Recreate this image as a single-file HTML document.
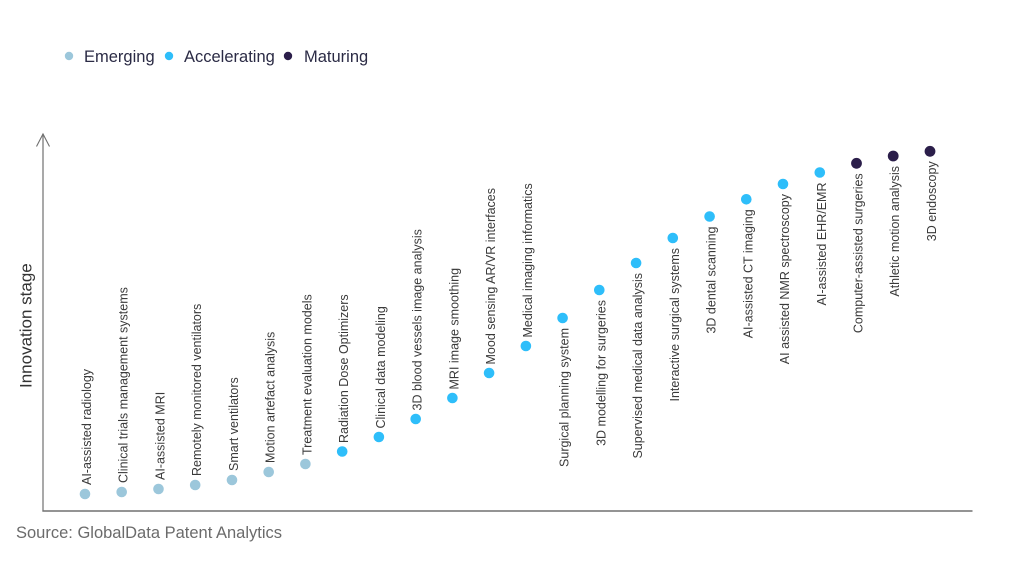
<!DOCTYPE html>
<html>
<head>
<meta charset="utf-8">
<style>
  html, body { margin: 0; padding: 0; background: #ffffff; }
  body { width: 1024px; height: 576px; overflow: hidden; }
  svg { display: block; }
  .lbl { font-family: "Liberation Sans", sans-serif; font-size: 12.5px; fill: #3a3a3a; }
  .leg { font-family: "Liberation Sans", sans-serif; font-size: 16.5px; fill: #2b2b45; }
</style>
</head>
<body>
<svg width="1024" height="576" viewBox="0 0 1024 576" xmlns="http://www.w3.org/2000/svg">
  <!-- Legend -->
  <circle cx="69" cy="56" r="4.2" fill="#9cc7db"/>
  <text class="leg" x="84" y="62">Emerging</text>
  <circle cx="169" cy="56" r="4.2" fill="#2ebefa"/>
  <text class="leg" x="184" y="62">Accelerating</text>
  <circle cx="288" cy="56" r="4.2" fill="#2b1e4a"/>
  <text class="leg" x="304" y="62">Maturing</text>

  <!-- Axes -->
  <line x1="43" y1="134" x2="43" y2="511.5" stroke="#707070" stroke-width="1.2"/>
  <line x1="42.4" y1="511" x2="972.5" y2="511" stroke="#707070" stroke-width="1.4"/>
  <polyline points="36.5,146.5 43,134 49.5,146.5" fill="none" stroke="#707070" stroke-width="1.1"/>

  <!-- Y axis title -->
  <text font-family="Liberation Sans, sans-serif" font-size="17px" fill="#333" transform="translate(31.5,388) rotate(-90)">Innovation stage</text>

  <!-- Source -->
  <text font-family="Liberation Sans, sans-serif" font-size="16.5px" fill="#6b6b6b" x="16" y="538">Source: GlobalData Patent Analytics</text>

  <!-- Emerging -->
  <circle cx="85" cy="494" r="5.3" fill="#9cc7db"/>
  <text class="lbl" transform="translate(91,485) rotate(-90)">AI-assisted radiology</text>
  <circle cx="121.7" cy="492" r="5.3" fill="#9cc7db"/>
  <text class="lbl" transform="translate(127.7,483) rotate(-90)">Clinical trials management systems</text>
  <circle cx="158.5" cy="489" r="5.3" fill="#9cc7db"/>
  <text class="lbl" transform="translate(164.5,480) rotate(-90)">AI-assisted MRI</text>
  <circle cx="195.2" cy="485" r="5.3" fill="#9cc7db"/>
  <text class="lbl" transform="translate(201.2,476) rotate(-90)">Remotely monitored ventilators</text>
  <circle cx="232" cy="480" r="5.3" fill="#9cc7db"/>
  <text class="lbl" transform="translate(238,471) rotate(-90)">Smart ventilators</text>
  <circle cx="268.7" cy="472" r="5.3" fill="#9cc7db"/>
  <text class="lbl" transform="translate(274.7,463) rotate(-90)">Motion artefact analysis</text>
  <circle cx="305.4" cy="464" r="5.3" fill="#9cc7db"/>
  <text class="lbl" transform="translate(311.4,455) rotate(-90)">Treatment evaluation models</text>

  <!-- Accelerating -->
  <circle cx="342.2" cy="451.5" r="5.3" fill="#2ebefa"/>
  <text class="lbl" transform="translate(348.2,443) rotate(-90)">Radiation Dose Optimizers</text>
  <circle cx="378.9" cy="437" r="5.3" fill="#2ebefa"/>
  <text class="lbl" transform="translate(384.9,428.5) rotate(-90)">Clinical data modeling</text>
  <circle cx="415.7" cy="419" r="5.3" fill="#2ebefa"/>
  <text class="lbl" transform="translate(421.7,410.5) rotate(-90)">3D blood vessels image analysis</text>
  <circle cx="452.4" cy="398" r="5.3" fill="#2ebefa"/>
  <text class="lbl" transform="translate(458.4,389.5) rotate(-90)">MRI image smoothing</text>
  <circle cx="489.1" cy="373" r="5.3" fill="#2ebefa"/>
  <text class="lbl" transform="translate(495.1,364.5) rotate(-90)">Mood sensing AR/VR interfaces</text>
  <circle cx="525.9" cy="346" r="5.3" fill="#2ebefa"/>
  <text class="lbl" transform="translate(531.9,337.5) rotate(-90)">Medical imaging informatics</text>

  <circle cx="562.6" cy="318" r="5.3" fill="#2ebefa"/>
  <text class="lbl" text-anchor="end" transform="translate(568.6,328) rotate(-90)">Surgical planning system</text>
  <circle cx="599.3" cy="290" r="5.3" fill="#2ebefa"/>
  <text class="lbl" text-anchor="end" transform="translate(605.3,300) rotate(-90)">3D modelling for surgeries</text>
  <circle cx="636.1" cy="263" r="5.3" fill="#2ebefa"/>
  <text class="lbl" text-anchor="end" transform="translate(642.1,273) rotate(-90)">Supervised medical data analysis</text>
  <circle cx="672.8" cy="238" r="5.3" fill="#2ebefa"/>
  <text class="lbl" text-anchor="end" transform="translate(678.8,248) rotate(-90)">Interactive surgical systems</text>
  <circle cx="709.6" cy="216.5" r="5.3" fill="#2ebefa"/>
  <text class="lbl" text-anchor="end" transform="translate(715.6,226.5) rotate(-90)">3D dental scanning</text>
  <circle cx="746.3" cy="199.3" r="5.3" fill="#2ebefa"/>
  <text class="lbl" text-anchor="end" transform="translate(752.3,209.3) rotate(-90)">AI-assisted CT imaging</text>
  <circle cx="783" cy="184" r="5.3" fill="#2ebefa"/>
  <text class="lbl" text-anchor="end" transform="translate(789,194) rotate(-90)">AI assisted NMR spectroscopy</text>
  <circle cx="819.8" cy="172.5" r="5.3" fill="#2ebefa"/>
  <text class="lbl" text-anchor="end" transform="translate(825.8,182.5) rotate(-90)">AI-assisted EHR/EMR</text>

  <!-- Maturing -->
  <circle cx="856.5" cy="163.3" r="5.4" fill="#2b1e4a"/>
  <text class="lbl" text-anchor="end" transform="translate(862.5,173.3) rotate(-90)">Computer-assisted surgeries</text>
  <circle cx="893.2" cy="156" r="5.4" fill="#2b1e4a"/>
  <text class="lbl" text-anchor="end" transform="translate(899.2,166) rotate(-90)">Athletic motion analysis</text>
  <circle cx="930" cy="151.3" r="5.4" fill="#2b1e4a"/>
  <text class="lbl" text-anchor="end" transform="translate(936,161.3) rotate(-90)">3D endoscopy</text>
</svg>
</body>
</html>
